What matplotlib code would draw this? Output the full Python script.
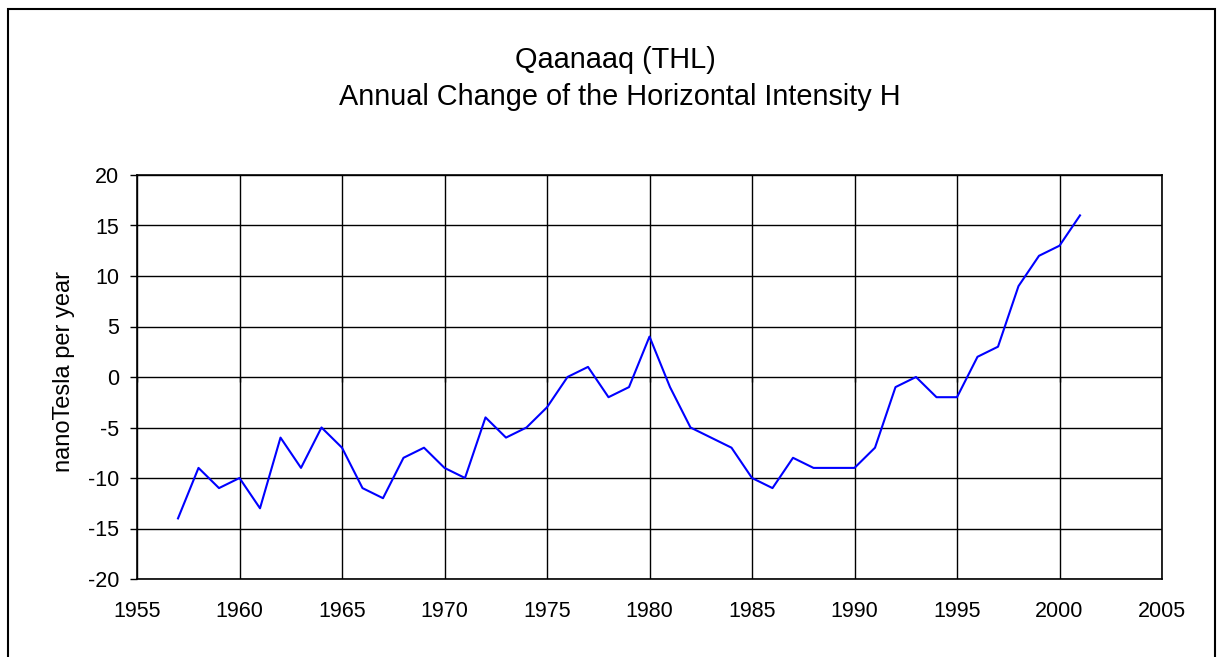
import matplotlib
matplotlib.use("Agg")
import matplotlib.pyplot as plt
from matplotlib.patches import Rectangle

years = list(range(1957, 2002))
values = [-14, -9, -11, -10, -13, -6, -9, -5, -7, -11,
          -12, -8, -7, -9, -10, -4, -6, -5, -3, 0,
          1, -2, -1, 4, -1, -5, -6, -7, -10, -11,
          -8, -9, -9, -9, -7, -1, 0, -2, -2, 2,
          3, 9, 12, 13, 16]
x_ticks = [1955, 1960, 1965, 1970, 1975, 1980, 1985, 1990, 1995, 2000, 2005]
y_ticks = [-20, -15, -10, -5, 0, 5, 10, 15, 20]
title_lines = ["Qaanaaq (THL)", "Annual Change of the Horizontal Intensity H"]
y_label = "nanoTesla per year"

plt.rcParams['font.family'] = ['Liberation Sans', 'DejaVu Sans']

W, H = 1220, 657
fig = plt.figure(figsize=(W / 100, H / 100), dpi=100)
fig.patch.set_facecolor('white')

# outer chart frame
fig.patches.append(Rectangle((8 / W, -0.05), 1207 / W, (H - 9) / H + 0.05,
                             transform=fig.transFigure, fill=False,
                             edgecolor='black', linewidth=1.5))

ax = fig.add_axes([137 / W, (H - 579) / H, (1162 - 137) / W, (579 - 175) / H])
ax.plot(years, values, color='#0000FF', linewidth=1.5, zorder=3)

ax.set_xlim(x_ticks[0], x_ticks[-1])
ax.set_ylim(y_ticks[0], y_ticks[-1])
ax.set_xticks(x_ticks)
ax.set_yticks(y_ticks)
ax.grid(True, color='black', linewidth=1.0)
ax.set_axisbelow(True)
for s in ax.spines.values():
    s.set_color('black')
    s.set_linewidth(1.2)

ax.tick_params(axis='x', length=0, pad=16, labelsize=15.5)
ax.tick_params(axis='y', length=5, width=1, pad=8, labelsize=15.5, direction='out')
ax.set_yticklabels([f"{v}" for v in y_ticks])

# small tick marks on the zero line (axis crossing at 0)
ax.vlines(x_ticks, 0, -0.45, color='black', linewidth=1.0, zorder=2)

ax.set_ylabel(y_label, fontsize=17, va='center')
ax.yaxis.set_label_coords((64 - 137) / (1162 - 137), (579 - 372) / (579 - 175))

fig.text(615 / W, 1 - 60 / H, title_lines[0], ha='center', va='center', fontsize=20.8)
fig.text(620 / W, 1 - 97 / H, title_lines[1], ha='center', va='center', fontsize=20.8)

fig.savefig("out.png", dpi=100, facecolor='white')
